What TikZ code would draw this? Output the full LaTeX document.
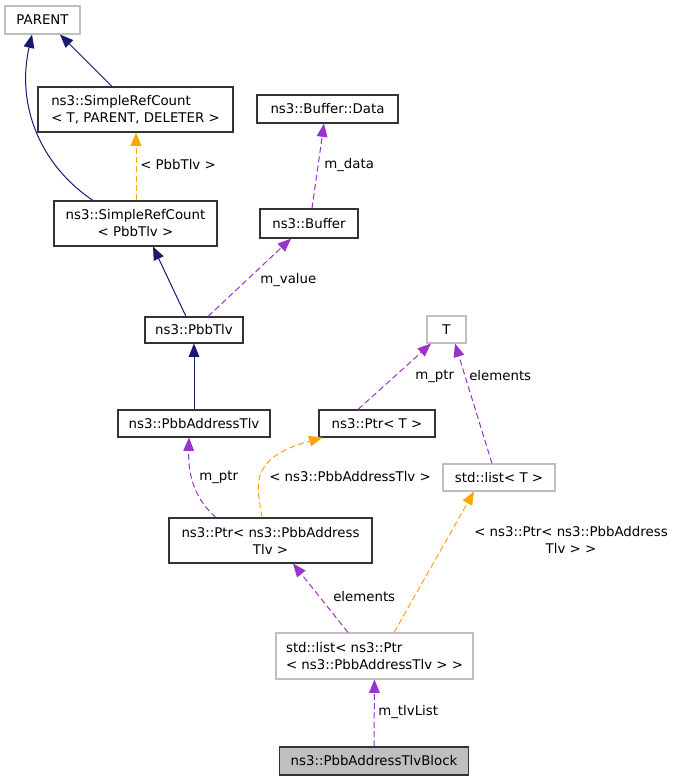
\documentclass[tikz,border=0pt]{standalone}
\usepackage{fontspec}
\setmainfont{DejaVu Sans}
\usetikzlibrary{arrows.meta,calc}
\definecolor{navy}{HTML}{191970}
\definecolor{orch}{HTML}{9A32CD}
\definecolor{orng}{HTML}{FFA500}
\definecolor{gbord}{HTML}{BFBFBF}
\begin{document}
\begin{tikzpicture}[x=0.75pt,y=-0.75pt,
  cls/.style={draw=black!80, line width=0.8pt, inner sep=0pt, font=\fontsize{10}{12.75}\selectfont},
  ext/.style={cls, draw=gbord},
  lbl/.style={font=\fontsize{10}{12.75}\selectfont, inner sep=0pt},
  inh/.style={draw=navy, line width=0.75pt, arrows={-{Triangle[length=10pt,width=8pt,fill=navy]}}},
  usage/.style={draw=orch, line width=0.75pt, dash pattern=on 4.5pt off 2.5pt, arrows={-{Triangle[length=10pt,width=8pt,fill=orch]}}},
  tmpl/.style={draw=orng, line width=0.75pt, dash pattern=on 4.5pt off 2.5pt, arrows={-{Triangle[length=10pt,width=8pt,fill=orng]}}}]
\useasboundingbox (0,0) rectangle (675,781);
% nodes
\node[ext, minimum width=75*0.75pt, minimum height=28*0.75pt] (parent) at (42.5,20) {PARENT};
\node[cls, minimum width=195*0.75pt, minimum height=45*0.75pt, align=left] (srct) at (135.5,109.5) {ns3::SimpleRefCount\\< T, PARENT, DELETER >};
\node[cls, minimum width=141*0.75pt, minimum height=28*0.75pt] (data) at (327.5,109) {ns3::Buffer::Data};
\node[cls, minimum width=163*0.75pt, minimum height=45*0.75pt, align=center] (srcp) at (135.5,223.5) {ns3::SimpleRefCount\\< PbbTlv >};
\node[cls, minimum width=98*0.75pt, minimum height=29*0.75pt] (buffer) at (309,223.5) {ns3::Buffer};
\node[cls, minimum width=98*0.75pt, minimum height=26*0.75pt] (pbbtlv) at (194,330) {ns3::PbbTlv};
\node[cls, minimum width=152*0.75pt, minimum height=27*0.75pt] (pat) at (194,423.5) {ns3::PbbAddressTlv};
\node[ext, minimum width=39*0.75pt, minimum height=27*0.75pt] (t) at (446.5,329.5) {T};
\node[cls, minimum width=116*0.75pt, minimum height=27*0.75pt] (ptrt) at (377,423.5) {ns3::Ptr< T >};
\node[ext, minimum width=112*0.75pt, minimum height=27*0.75pt] (listt) at (499,477.5) {std::list< T >};
\node[cls, minimum width=203*0.75pt, minimum height=45*0.75pt, align=center] (ptrp) at (270.5,540.5) {ns3::Ptr< ns3::PbbAddress\\Tlv >};
\node[ext, minimum width=197*0.75pt, minimum height=46*0.75pt, align=left] (listp) at (374.5,656) {std::list< ns3::Ptr\\< ns3::PbbAddressTlv > >};
\node[cls, fill=gbord, minimum width=189*0.75pt, minimum height=28*0.75pt] (block) at (374,761) {ns3::PbbAddressTlvBlock};
% edges
\draw[inh] ($(srcp.north)+(-42.5,0)$) .. controls (40,165) and (16,105) .. ($(parent.south)+(-10.5,0)$);
\draw[inh] ($(srct.north)+(-23.5,0)$) -- ($(parent.south)+(17.5,0)$);
\draw[tmpl] ($(srcp.north)+(0.5,0)$) -- ($(srct.south)+(0.5,0)$);
\node[lbl, anchor=west] (lpbb) at (140,165) {< PbbTlv >};
\draw[usage] ($(buffer.north)+(3,0)$) -- ($(data.south)+(-3.5,0)$);
\node[lbl, anchor=west] (ldata) at (324,165) {m\_data};
\draw[inh] ($(pbbtlv.north)+(-8,0)$) -- ($(srcp.south)+(17.5,0)$);
\draw[usage] ($(pbbtlv.north)+(14,0)$) -- ($(buffer.south)+(-18,0)$);
\node[lbl, anchor=west] (lvalue) at (260,280) {m\_value};
\draw[inh] (pat.north) -- (pbbtlv.south);
\draw[usage] ($(ptrt.north)+(-19,0)$) -- ($(t.south)+(-15.5,0)$);
\node[lbl, anchor=west] (lptr1) at (415,376) {m\_ptr};
\draw[usage] ($(listt.north)+(-7,0)$) -- ($(t.south)+(8.5,0)$);
\node[lbl, anchor=west] (lel1) at (469,376) {elements};
\draw[usage] ($(ptrp.north)+(-54.5,0)$) .. controls (196,500) and (188,478) .. ($(pat.south)+(-5,0)$);
\node[lbl, anchor=west] (lptr2) at (199,477) {m\_ptr};
\draw[tmpl] ($(ptrp.north)+(-8.5,0)$) .. controls (256,482) and (250,458) .. ($(ptrt.south west)+(4,0)$);
\node[lbl, anchor=west] (ltpat) at (269,477) {< ns3::PbbAddressTlv >};
\draw[usage] ($(listp.north)+(-26.5,0)$) -- ($(ptrp.south)+(22.5,0)$);
\node[lbl, anchor=west] (lel2) at (333,597) {elements};
\draw[tmpl] ($(listp.north)+(19.5,0)$) -- ($(listt.south)+(-25,0)$);
\node[lbl, align=center] (ltptr) at (571,539.5) {< ns3::Ptr< ns3::PbbAddress\\Tlv > >};
\draw[usage] (block.north) -- (listp.south);
\node[lbl, anchor=west] (ltlv) at (378,712) {m\_tlvList};
\end{tikzpicture}
\end{document}
